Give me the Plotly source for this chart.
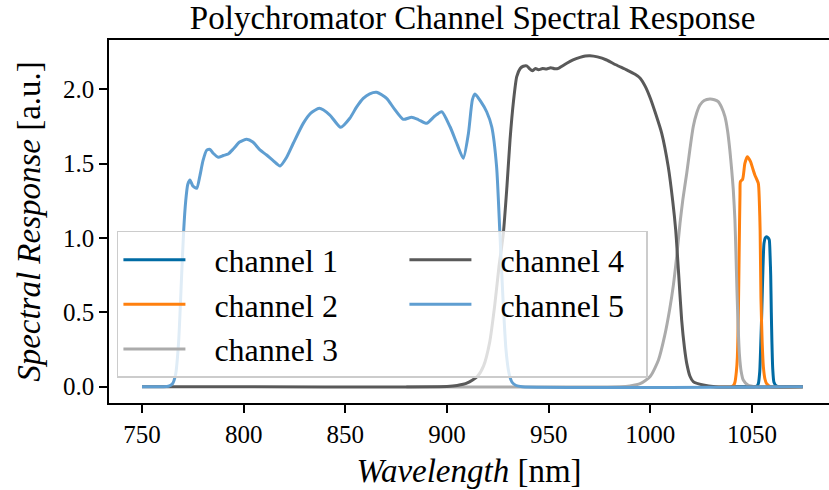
import plotly.graph_objects as go

# ---------------- data ----------------
ch1_wl = [1040, 1051, 1052.5, 1053.1, 1053.8, 1054.3, 1054.8, 1055.4, 1055.9, 1056.5, 1057.2,
          1058.0, 1058.5, 1058.9, 1059.2, 1059.5, 1059.8, 1060.2, 1060.8, 1062, 1064, 1075]
ch1_resp = [0, 0, 0.005, 0.02, 0.1, 0.28, 0.5, 0.8, 0.964, 1.0, 1.009,
            1.0, 0.987, 0.88, 0.75, 0.5, 0.3, 0.12, 0.03, 0.005, 0, 0]

ch2_wl = [1030, 1040, 1041, 1041.6, 1042.3, 1042.8, 1043.3, 1043.7, 1044.1, 1044.3, 1045.4,
          1046.5, 1047.7, 1049.3, 1050.3, 1051.4, 1053.1, 1053.6, 1054.0, 1054.4, 1055.0,
          1055.6, 1056.4, 1057.2, 1059, 1075]
ch2_resp = [0, 0, 0.01, 0.03, 0.1, 0.2, 0.5, 0.92, 1.30, 1.379, 1.395,
            1.502, 1.547, 1.513, 1.47, 1.424, 1.368, 1.25, 1.05, 0.6, 0.3,
            0.134, 0.05, 0.02, 0, 0]

ch3_wl = [880, 985, 990, 995, 1000, 1004, 1007, 1009.5, 1011.3, 1013, 1014.6, 1016, 1017.9,
          1019.5, 1021.1, 1022.8, 1024.4, 1026.5, 1029.3, 1031.5, 1033.4, 1035, 1036.7,
          1038, 1039.1, 1040, 1040.8, 1041.6, 1042.1, 1042.6, 1043.2, 1043.8, 1044.7,
          1045.7, 1048, 1052, 1075]
ch3_resp = [0, 0, 0.005, 0.02, 0.07, 0.18, 0.34, 0.52, 0.68, 0.88, 1.1, 1.26, 1.435,
            1.6, 1.748, 1.84, 1.894, 1.925, 1.935, 1.93, 1.917, 1.88, 1.816,
            1.72, 1.592, 1.46, 1.323, 1.121, 0.9, 0.65, 0.4, 0.22, 0.1,
            0.045, 0.011, 0, 0]

ch4_wl = [750, 900, 905, 910, 915, 918, 921, 923.5, 925.5, 927.7, 929.5, 931, 932.7, 934.3,
          936, 937.5, 939.2, 940.5, 942, 943.5, 945, 947, 949, 951, 953, 954.8, 956.5,
          958.9, 962, 965.4, 968, 970.3, 974, 978.5, 983, 988.4, 992.5, 995, 997.5, 1000,
          1002.5, 1005.6, 1008.8, 1011, 1012.5, 1013.8, 1015.4, 1016.8, 1017.9, 1019.5,
          1021.1, 1026, 1032, 1075]
ch4_resp = [0, 0.002, 0.008, 0.025, 0.07, 0.14, 0.3, 0.55, 0.8, 1.03, 1.35, 1.66, 1.92, 2.085,
            2.14, 2.155, 2.157, 2.14, 2.125, 2.14, 2.132, 2.14, 2.137, 2.145, 2.138, 2.141, 2.155,
            2.175, 2.198, 2.215, 2.224, 2.226, 2.218, 2.197, 2.165, 2.13, 2.101, 2.075, 2.02, 1.94,
            1.84, 1.704, 1.48, 1.25, 1.05, 0.785, 0.449, 0.26, 0.157, 0.07,
            0.034, 0.011, 0, 0]

ch5_wl = [750, 760, 763, 765, 766.5, 768, 769.5, 770.5, 771.5, 772.5, 773.6, 775, 776.9,
          778.5, 780, 781.8, 783.4, 785, 787.5, 790, 792.4, 795, 798, 801.5, 804.5, 808,
          811.3, 814.5, 817.9, 821, 824.4, 829.3, 833, 837.2, 842.4, 847.7, 852.2, 855.5,
          858.8, 862, 865.4, 870.3, 874, 878.5, 882.6, 886, 890, 894, 897.4, 901.5, 905,
          908, 910.5, 912.5, 913.8, 916.5, 919.5, 922, 924.4, 926, 927.5, 929, 930.5, 932,
          934, 937, 1075]
ch5_resp = [0, 0, 0.003, 0.02, 0.08, 0.3, 0.75, 1.05, 1.25, 1.36, 1.39, 1.35, 1.334,
            1.42, 1.52, 1.59, 1.596, 1.57, 1.543, 1.555, 1.565, 1.6, 1.645, 1.664, 1.645, 1.592,
            1.558, 1.52, 1.484, 1.54, 1.637, 1.771, 1.84, 1.872, 1.827, 1.744, 1.805, 1.88,
            1.939, 1.97, 1.98, 1.939, 1.87, 1.798, 1.812, 1.795, 1.771, 1.82, 1.849, 1.748, 1.63,
            1.536, 1.7, 1.93, 1.968, 1.92, 1.849, 1.748, 1.479, 1.034, 0.6, 0.25, 0.09, 0.03,
            0.008, 0, 0]

channel_names = ["channel 1", "channel 2", "channel 3", "channel 4", "channel 5"]
channel_colors = ["#006BA4", "#FF800E", "#ABABAB", "#595959", "#5F9ED1"]
x_ticks = [750, 800, 850, 900, 950, 1000, 1050]
y_ticks = [0.0, 0.5, 1.0, 1.5, 2.0]

title_text = "Polychromator Channel Spectral Response"
x_title = "<i>Wavelength</i> [nm]"
y_title = "<i>Spectral Response</i> [a.u.]"

# ---------------- figure ----------------
FONT = "Liberation Serif"
series = [(ch1_wl, ch1_resp), (ch2_wl, ch2_resp), (ch3_wl, ch3_resp),
          (ch4_wl, ch4_resp), (ch5_wl, ch5_resp)]
# legend laid out in two columns (column-major like the reference)
ranks = [1, 3, 5, 2, 4]
lwidths = [209, 209, 209, 165, 165]

fig = go.Figure()
for (wl, resp), name, col, rk, lw in zip(series, channel_names, channel_colors, ranks, lwidths):
    fig.add_trace(go.Scatter(
        x=wl, y=resp, mode="lines", name="\u00a0\u00a0\u00a0" + name,
        line=dict(color=col, width=3, shape="spline", smoothing=0.6),
        legendrank=rk, legendwidth=lw,
    ))

fig.update_layout(
    width=829, height=490, autosize=False,
    margin=dict(l=109, r=0, t=40, b=87, pad=0),
    paper_bgcolor="white", plot_bgcolor="white",
    font=dict(family=FONT, color="black"),
    title=dict(text=title_text, font=dict(size=33, family=FONT, color="black"),
               xref="paper", x=0.505, xanchor="center",
               yref="container", y=1 - 17 / 490, yanchor="middle"),
    legend=dict(orientation="h", x=0.011, xanchor="left", y=0.069, yanchor="bottom",
                bgcolor="rgba(255,255,255,0.8)", bordercolor="#cccccc", borderwidth=1.5,
                font=dict(size=32, family=FONT, color="black"), itemwidth=62,
                traceorder="normal"),
    showlegend=True,
)
fig.update_xaxes(
    range=[733.77, 1087.87], tickmode="array", tickvals=x_ticks,
    ticks="outside", ticklen=8, tickwidth=1.6, tickcolor="black",
    showline=True, linecolor="black", linewidth=1.6, mirror=True,
    showgrid=False, zeroline=False,
    tickfont=dict(size=25, family=FONT, color="black"),
    title=dict(text=x_title, font=dict(size=33, family=FONT, color="black"), standoff=12),
)
fig.update_yaxes(
    range=[-0.1096, 2.3315], tickmode="array", tickvals=y_ticks, tickformat=".1f",
    ticks="outside", ticklen=8, tickwidth=1.6, tickcolor="black",
    showline=True, linecolor="black", linewidth=1.6, mirror=False,
    showgrid=False, zeroline=False,
    tickfont=dict(size=25, family=FONT, color="black"),
    title=dict(text=y_title, font=dict(size=33, family=FONT, color="black"), standoff=12),
)

fig.write_html("out.html")
